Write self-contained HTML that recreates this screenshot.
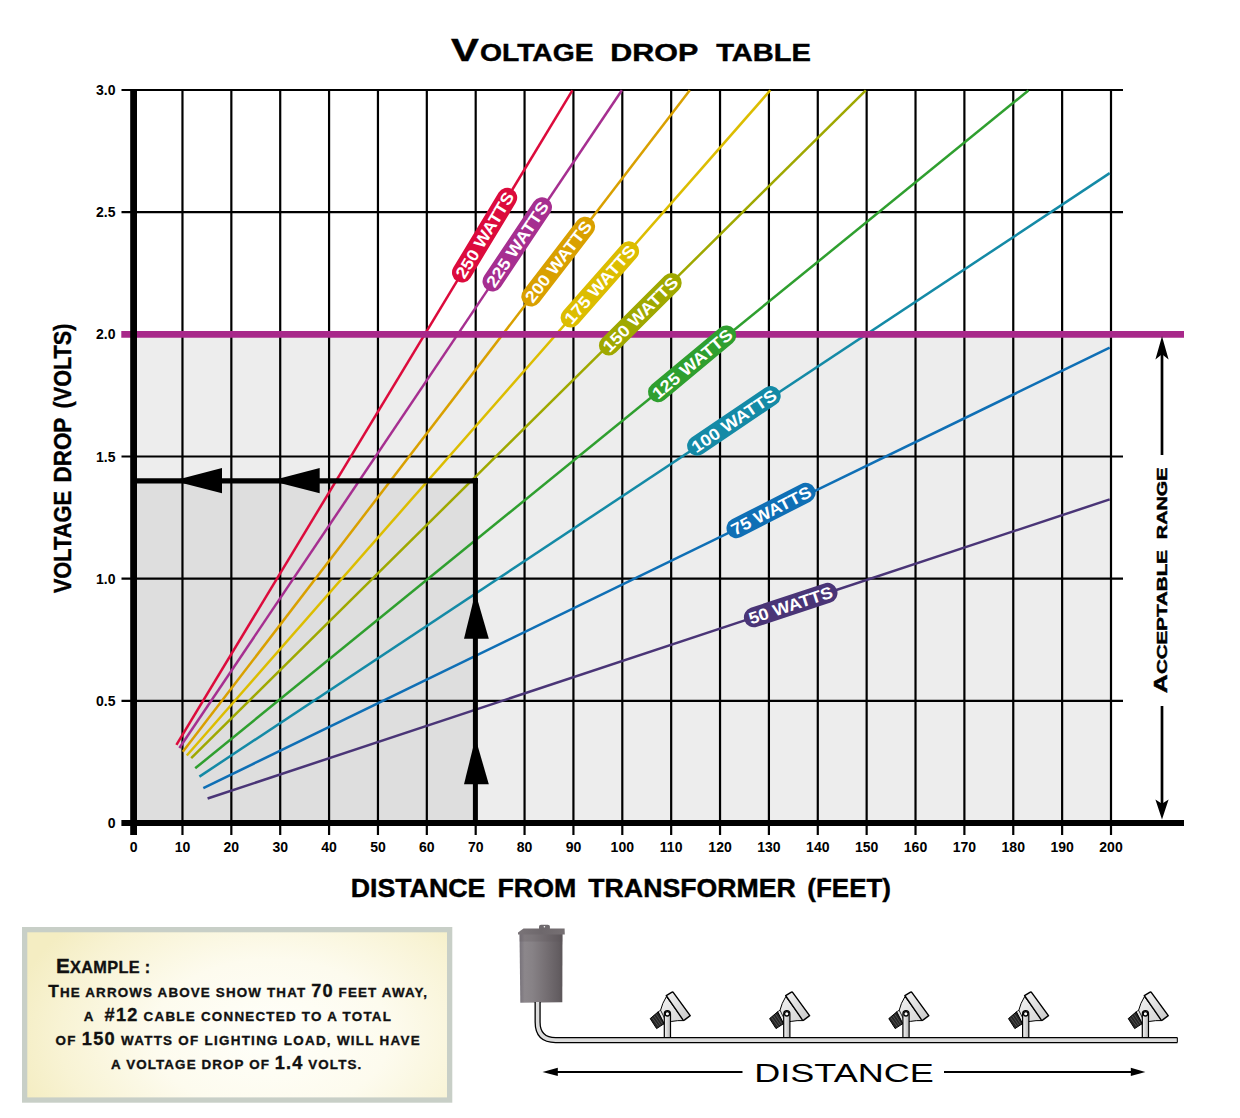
<!DOCTYPE html><html><head><meta charset="utf-8"><title>Voltage Drop Table</title><style>html,body{margin:0;padding:0;background:#fff;}body{width:1240px;height:1118px;position:relative;overflow:hidden;}</style></head><body><svg width="1240" height="1118" viewBox="0 0 1240 1118" style="position:absolute;left:0;top:0">
<defs><radialGradient id="cream" cx="58%" cy="62%" r="62%" gradientTransform="translate(0.58 0.62) scale(1 1.6) translate(-0.58 -0.62)"><stop offset="0" stop-color="#fffffa"/><stop offset="0.45" stop-color="#fdfbee"/><stop offset="0.8" stop-color="#f8f3d4"/><stop offset="1" stop-color="#f4edc2"/></radialGradient><linearGradient id="tbody" x1="0" x2="1" y1="0" y2="0"><stop offset="0" stop-color="#77727a"/><stop offset="0.12" stop-color="#8c878b"/><stop offset="0.3" stop-color="#878286"/><stop offset="0.6" stop-color="#767074"/><stop offset="0.9" stop-color="#645e62"/><stop offset="1" stop-color="#5c5659"/></linearGradient><linearGradient id="stake" x1="0" x2="1" y1="0" y2="0"><stop offset="0" stop-color="#f4f4f4"/><stop offset="1" stop-color="#b8b8b8"/></linearGradient><linearGradient id="face" x1="0" x2="1" y1="0" y2="1"><stop offset="0" stop-color="#f4f4f4"/><stop offset="1" stop-color="#c8c8c8"/></linearGradient><linearGradient id="bodyg" x1="0" x2="1" y1="0" y2="1"><stop offset="0" stop-color="#f2f2f2"/><stop offset="1" stop-color="#d4d4d4"/></linearGradient><linearGradient id="lid" x1="0" x2="1" y1="0" y2="0"><stop offset="0" stop-color="#7a7478"/><stop offset="0.5" stop-color="#6e686c"/><stop offset="1" stop-color="#767073"/></linearGradient></defs>
<rect x="133.6" y="334.32" width="977.4" height="488.68" fill="#ededed"/>
<rect x="133.6" y="480.9" width="341.79999999999995" height="342.1" fill="#dedede"/>
<line x1="182.47" y1="89.3" x2="182.47" y2="835" stroke="#000" stroke-width="2.2"/>
<line x1="231.34" y1="89.3" x2="231.34" y2="835" stroke="#000" stroke-width="2.2"/>
<line x1="280.21" y1="89.3" x2="280.21" y2="835" stroke="#000" stroke-width="2.2"/>
<line x1="329.08" y1="89.3" x2="329.08" y2="835" stroke="#000" stroke-width="2.2"/>
<line x1="377.95" y1="89.3" x2="377.95" y2="835" stroke="#000" stroke-width="2.2"/>
<line x1="426.82" y1="89.3" x2="426.82" y2="835" stroke="#000" stroke-width="2.2"/>
<line x1="475.69" y1="89.3" x2="475.69" y2="835" stroke="#000" stroke-width="2.2"/>
<line x1="524.56" y1="89.3" x2="524.56" y2="835" stroke="#000" stroke-width="2.2"/>
<line x1="573.43" y1="89.3" x2="573.43" y2="835" stroke="#000" stroke-width="2.2"/>
<line x1="622.30" y1="89.3" x2="622.30" y2="835" stroke="#000" stroke-width="2.2"/>
<line x1="671.17" y1="89.3" x2="671.17" y2="835" stroke="#000" stroke-width="2.2"/>
<line x1="720.04" y1="89.3" x2="720.04" y2="835" stroke="#000" stroke-width="2.2"/>
<line x1="768.91" y1="89.3" x2="768.91" y2="835" stroke="#000" stroke-width="2.2"/>
<line x1="817.78" y1="89.3" x2="817.78" y2="835" stroke="#000" stroke-width="2.2"/>
<line x1="866.65" y1="89.3" x2="866.65" y2="835" stroke="#000" stroke-width="2.2"/>
<line x1="915.52" y1="89.3" x2="915.52" y2="835" stroke="#000" stroke-width="2.2"/>
<line x1="964.39" y1="89.3" x2="964.39" y2="835" stroke="#000" stroke-width="2.2"/>
<line x1="1013.26" y1="89.3" x2="1013.26" y2="835" stroke="#000" stroke-width="2.2"/>
<line x1="1062.13" y1="89.3" x2="1062.13" y2="835" stroke="#000" stroke-width="2.2"/>
<line x1="1111.00" y1="89.3" x2="1111.00" y2="835" stroke="#000" stroke-width="2.2"/>
<line x1="121.5" y1="700.83" x2="1123" y2="700.83" stroke="#000" stroke-width="2.2"/>
<line x1="121.5" y1="578.66" x2="1123" y2="578.66" stroke="#000" stroke-width="2.2"/>
<line x1="121.5" y1="456.49" x2="1123" y2="456.49" stroke="#000" stroke-width="2.2"/>
<line x1="121.5" y1="212.15" x2="1123" y2="212.15" stroke="#000" stroke-width="2.2"/>
<line x1="121.5" y1="89.98" x2="1123" y2="89.98" stroke="#000" stroke-width="2.2"/>
<line x1="176.4" y1="744.8" x2="572.4" y2="90.3" stroke="#dc0b3c" stroke-width="2.5"/>
<line x1="179.4" y1="748.0" x2="621.9" y2="90.3" stroke="#a62f90" stroke-width="2.5"/>
<line x1="182.8" y1="751.8" x2="689.8" y2="90.3" stroke="#d9a000" stroke-width="2.5"/>
<line x1="186.8" y1="755.5" x2="770.3" y2="90.3" stroke="#dcbd00" stroke-width="2.5"/>
<line x1="191.2" y1="758.2" x2="865.8" y2="90.3" stroke="#9fa800" stroke-width="2.5"/>
<line x1="195.2" y1="768.3" x2="1028.4" y2="90.5" stroke="#2f9f2f" stroke-width="2.5"/>
<line x1="199.4" y1="776.6" x2="1109.7" y2="173.1" stroke="#148aa6" stroke-width="2.5"/>
<line x1="203.3" y1="788.1" x2="1109.7" y2="347.7" stroke="#0f6fb5" stroke-width="2.5"/>
<line x1="207.6" y1="798.5" x2="1109.7" y2="499.4" stroke="#4a3577" stroke-width="2.5"/>
<line x1="121.3" y1="334.32" x2="1184" y2="334.32" stroke="#a8288a" stroke-width="6.7"/>
<line x1="133.6" y1="89" x2="133.6" y2="835" stroke="#000" stroke-width="6.8"/>
<line x1="121.4" y1="823.0" x2="1184" y2="823.0" stroke="#000" stroke-width="6"/>
<line x1="462.0" y1="272.5" x2="507.2" y2="197.7" stroke="#dc0b3c" stroke-width="20" stroke-linecap="round"/>
<text x="0" y="0" transform="translate(484.60,235.10) rotate(-58.86)" text-anchor="middle" dy="5.9" font-family='"Liberation Sans", sans-serif' font-weight="bold" font-size="16.5" fill="#fff" textLength="97.4" lengthAdjust="spacingAndGlyphs">250 WATTS</text>
<line x1="492.5" y1="281.4" x2="542.0" y2="207.2" stroke="#a62f90" stroke-width="20" stroke-linecap="round"/>
<text x="0" y="0" transform="translate(517.25,244.30) rotate(-56.29)" text-anchor="middle" dy="5.9" font-family='"Liberation Sans", sans-serif' font-weight="bold" font-size="16.5" fill="#fff" textLength="99.2" lengthAdjust="spacingAndGlyphs">225 WATTS</text>
<line x1="531.3" y1="296.5" x2="585.1" y2="226.7" stroke="#d9a000" stroke-width="20" stroke-linecap="round"/>
<text x="0" y="0" transform="translate(558.20,261.60) rotate(-52.38)" text-anchor="middle" dy="5.9" font-family='"Liberation Sans", sans-serif' font-weight="bold" font-size="16.5" fill="#fff" textLength="98.1" lengthAdjust="spacingAndGlyphs">200 WATTS</text>
<line x1="570.6" y1="317.6" x2="629.1" y2="251.2" stroke="#dcbd00" stroke-width="20" stroke-linecap="round"/>
<text x="0" y="0" transform="translate(599.85,284.40) rotate(-48.62)" text-anchor="middle" dy="5.9" font-family='"Liberation Sans", sans-serif' font-weight="bold" font-size="16.5" fill="#fff" textLength="98.5" lengthAdjust="spacingAndGlyphs">175 WATTS</text>
<line x1="608.9" y1="345.5" x2="671.7" y2="282.9" stroke="#9fa800" stroke-width="20" stroke-linecap="round"/>
<text x="0" y="0" transform="translate(640.30,314.20) rotate(-44.91)" text-anchor="middle" dy="5.9" font-family='"Liberation Sans", sans-serif' font-weight="bold" font-size="16.5" fill="#fff" textLength="98.7" lengthAdjust="spacingAndGlyphs">150 WATTS</text>
<line x1="658.0" y1="392.2" x2="726.3" y2="335.4" stroke="#2f9f2f" stroke-width="20" stroke-linecap="round"/>
<text x="0" y="0" transform="translate(692.15,363.80) rotate(-39.75)" text-anchor="middle" dy="5.9" font-family='"Liberation Sans", sans-serif' font-weight="bold" font-size="16.5" fill="#fff" textLength="98.8" lengthAdjust="spacingAndGlyphs">125 WATTS</text>
<line x1="697.1" y1="445.7" x2="770.7" y2="396.0" stroke="#148aa6" stroke-width="20" stroke-linecap="round"/>
<text x="0" y="0" transform="translate(733.90,420.85) rotate(-34.03)" text-anchor="middle" dy="5.9" font-family='"Liberation Sans", sans-serif' font-weight="bold" font-size="16.5" fill="#fff" textLength="98.8" lengthAdjust="spacingAndGlyphs">100 WATTS</text>
<line x1="736.5" y1="528.2" x2="805.6" y2="492.8" stroke="#0f6fb5" stroke-width="20" stroke-linecap="round"/>
<text x="0" y="0" transform="translate(771.05,510.50) rotate(-27.13)" text-anchor="middle" dy="5.9" font-family='"Liberation Sans", sans-serif' font-weight="bold" font-size="16.5" fill="#fff" textLength="87.6" lengthAdjust="spacingAndGlyphs">75 WATTS</text>
<line x1="753.9" y1="617.3" x2="827.5" y2="592.9" stroke="#4a3577" stroke-width="20" stroke-linecap="round"/>
<text x="0" y="0" transform="translate(790.70,605.10) rotate(-18.34)" text-anchor="middle" dy="5.9" font-family='"Liberation Sans", sans-serif' font-weight="bold" font-size="16.5" fill="#fff" textLength="87.5" lengthAdjust="spacingAndGlyphs">50 WATTS</text>
<line x1="137" y1="480.9" x2="478" y2="480.9" stroke="#000" stroke-width="5.2"/>
<line x1="475.4" y1="478.3" x2="475.4" y2="823" stroke="#000" stroke-width="5"/>
<polygon points="173.2,480.8 222.0,468 222.0,493.2" fill="#000"/>
<polygon points="270.9,480.8 319.7,468 319.7,493.2" fill="#000"/>
<polygon points="475.4,592.5 464,638.7 488.8,638.7" fill="#000"/>
<polygon points="475.4,738.0 464,784.2 488.8,784.2" fill="#000"/>
<line x1="1162" y1="352" x2="1162" y2="455" stroke="#000" stroke-width="2.7"/>
<line x1="1162" y1="706" x2="1162" y2="805" stroke="#000" stroke-width="2.7"/>
<polygon points="1162,336.2 1168.6,359.6 1162,354.3 1155.4,359.6" fill="#000"/>
<polygon points="1162,819.6 1168.6,799.5 1162,803.8 1155.4,799.5" fill="#000"/>
<text x="115.5" y="828.10" text-anchor="end" font-family='"Liberation Sans", sans-serif' font-weight="bold" font-size="14">0</text>
<text x="115.5" y="705.93" text-anchor="end" font-family='"Liberation Sans", sans-serif' font-weight="bold" font-size="14">0.5</text>
<text x="115.5" y="583.76" text-anchor="end" font-family='"Liberation Sans", sans-serif' font-weight="bold" font-size="14">1.0</text>
<text x="115.5" y="461.59" text-anchor="end" font-family='"Liberation Sans", sans-serif' font-weight="bold" font-size="14">1.5</text>
<text x="115.5" y="339.42" text-anchor="end" font-family='"Liberation Sans", sans-serif' font-weight="bold" font-size="14">2.0</text>
<text x="115.5" y="217.25" text-anchor="end" font-family='"Liberation Sans", sans-serif' font-weight="bold" font-size="14">2.5</text>
<text x="115.5" y="95.08" text-anchor="end" font-family='"Liberation Sans", sans-serif' font-weight="bold" font-size="14">3.0</text>
<text x="133.60" y="852" text-anchor="middle" font-family='"Liberation Sans", sans-serif' font-weight="bold" font-size="14">0</text>
<text x="182.47" y="852" text-anchor="middle" font-family='"Liberation Sans", sans-serif' font-weight="bold" font-size="14">10</text>
<text x="231.34" y="852" text-anchor="middle" font-family='"Liberation Sans", sans-serif' font-weight="bold" font-size="14">20</text>
<text x="280.21" y="852" text-anchor="middle" font-family='"Liberation Sans", sans-serif' font-weight="bold" font-size="14">30</text>
<text x="329.08" y="852" text-anchor="middle" font-family='"Liberation Sans", sans-serif' font-weight="bold" font-size="14">40</text>
<text x="377.95" y="852" text-anchor="middle" font-family='"Liberation Sans", sans-serif' font-weight="bold" font-size="14">50</text>
<text x="426.82" y="852" text-anchor="middle" font-family='"Liberation Sans", sans-serif' font-weight="bold" font-size="14">60</text>
<text x="475.69" y="852" text-anchor="middle" font-family='"Liberation Sans", sans-serif' font-weight="bold" font-size="14">70</text>
<text x="524.56" y="852" text-anchor="middle" font-family='"Liberation Sans", sans-serif' font-weight="bold" font-size="14">80</text>
<text x="573.43" y="852" text-anchor="middle" font-family='"Liberation Sans", sans-serif' font-weight="bold" font-size="14">90</text>
<text x="622.30" y="852" text-anchor="middle" font-family='"Liberation Sans", sans-serif' font-weight="bold" font-size="14">100</text>
<text x="671.17" y="852" text-anchor="middle" font-family='"Liberation Sans", sans-serif' font-weight="bold" font-size="14">110</text>
<text x="720.04" y="852" text-anchor="middle" font-family='"Liberation Sans", sans-serif' font-weight="bold" font-size="14">120</text>
<text x="768.91" y="852" text-anchor="middle" font-family='"Liberation Sans", sans-serif' font-weight="bold" font-size="14">130</text>
<text x="817.78" y="852" text-anchor="middle" font-family='"Liberation Sans", sans-serif' font-weight="bold" font-size="14">140</text>
<text x="866.65" y="852" text-anchor="middle" font-family='"Liberation Sans", sans-serif' font-weight="bold" font-size="14">150</text>
<text x="915.52" y="852" text-anchor="middle" font-family='"Liberation Sans", sans-serif' font-weight="bold" font-size="14">160</text>
<text x="964.39" y="852" text-anchor="middle" font-family='"Liberation Sans", sans-serif' font-weight="bold" font-size="14">170</text>
<text x="1013.26" y="852" text-anchor="middle" font-family='"Liberation Sans", sans-serif' font-weight="bold" font-size="14">180</text>
<text x="1062.13" y="852" text-anchor="middle" font-family='"Liberation Sans", sans-serif' font-weight="bold" font-size="14">190</text>
<text x="1111.00" y="852" text-anchor="middle" font-family='"Liberation Sans", sans-serif' font-weight="bold" font-size="14">200</text>
<text x="451.0" y="61" font-family='"Liberation Sans", sans-serif' font-weight="bold" font-size="30.7" textLength="27.8" lengthAdjust="spacingAndGlyphs" stroke="#000" stroke-width="0.4">V</text>
<text x="480.0" y="61" font-family='"Liberation Sans", sans-serif' font-weight="bold" font-size="23.7" textLength="113.6" lengthAdjust="spacingAndGlyphs" stroke="#000" stroke-width="0.4">OLTAGE</text>
<text x="610.3" y="61" font-family='"Liberation Sans", sans-serif' font-weight="bold" font-size="23.7" textLength="88.0" lengthAdjust="spacingAndGlyphs" stroke="#000" stroke-width="0.4">DROP</text>
<text x="716.2" y="61" font-family='"Liberation Sans", sans-serif' font-weight="bold" font-size="23.7" textLength="94.8" lengthAdjust="spacingAndGlyphs" stroke="#000" stroke-width="0.4">TABLE</text>
<text x="350.7" y="896.9" font-family='"Liberation Sans", sans-serif' font-weight="bold" font-size="25" textLength="134.7" lengthAdjust="spacingAndGlyphs" stroke="#000" stroke-width="0.4">DISTANCE</text>
<text x="497.5" y="896.9" font-family='"Liberation Sans", sans-serif' font-weight="bold" font-size="25" textLength="78.8" lengthAdjust="spacingAndGlyphs" stroke="#000" stroke-width="0.4">FROM</text>
<text x="588.3" y="896.9" font-family='"Liberation Sans", sans-serif' font-weight="bold" font-size="25" textLength="207.5" lengthAdjust="spacingAndGlyphs" stroke="#000" stroke-width="0.4">TRANSFORMER</text>
<text x="807.3" y="896.9" font-family='"Liberation Sans", sans-serif' font-weight="bold" font-size="25" textLength="83.7" lengthAdjust="spacingAndGlyphs" stroke="#000" stroke-width="0.4">(FEET)</text>
<text x="0" y="0" transform="translate(71.1,593.3) rotate(-90)" font-family='"Liberation Sans", sans-serif' font-weight="bold" font-size="23.7" stroke="#000" stroke-width="0.4" textLength="102.5" lengthAdjust="spacingAndGlyphs">VOLTAGE</text>
<text x="0" y="0" transform="translate(71.1,482.5) rotate(-90)" font-family='"Liberation Sans", sans-serif' font-weight="bold" font-size="23.7" stroke="#000" stroke-width="0.4" textLength="64.8" lengthAdjust="spacingAndGlyphs">DROP</text>
<text x="0" y="0" transform="translate(71.1,408.5) rotate(-90)" font-family='"Liberation Sans", sans-serif' font-weight="bold" font-size="23.7" stroke="#000" stroke-width="0.4" textLength="84.9" lengthAdjust="spacingAndGlyphs">(VOLTS)</text>
<text x="0" y="0" transform="translate(1166.6,693.2) rotate(-90)" font-family='"Liberation Sans", sans-serif' font-weight="bold" font-size="14.8" stroke="#000" stroke-width="0.45" textLength="143.2" lengthAdjust="spacingAndGlyphs"><tspan font-size="19">A</tspan>CCEPTABLE</text>
<text x="0" y="0" transform="translate(1166.6,539.2) rotate(-90)" font-family='"Liberation Sans", sans-serif' font-weight="bold" font-size="14.8" stroke="#000" stroke-width="0.45" textLength="71.8" lengthAdjust="spacingAndGlyphs">RANGE</text>
<rect x="24.65" y="929.65" width="425" height="170.4" fill="url(#cream)" stroke="#c8cfc7" stroke-width="5.3"/>
<path d="M539,929 L539,926.5 Q539,924.7 541,924.7 L547.8,924.7 Q549.9,924.7 549.9,926.5 L549.9,929 Z" fill="#6f6a6e"/>
<circle cx="544.4" cy="926.8" r="0.8" fill="#fff"/>
<path d="M519.5,933.5 L562.5,933.5 L562.3,1002.2 L520.3,1002.8 Z" fill="url(#tbody)"/>
<rect x="519.5" y="933.5" width="43" height="8" fill="#5a5458" opacity="0.25"/>
<path d="M518,934.6 L518,932.5 L523.5,928.4 L564.6,928.4 L564.8,934.6 Z" fill="url(#lid)"/>
<g transform="translate(0.00,0)"><path d="M666.4,996.6 Q662.3,1003 660.4,1010.8 L663.6,1022.6 L671.8,1021.4 Q677.5,1020.3 684,1020.6 Z" fill="url(#bodyg)" stroke="#000" stroke-width="1"/><path d="M666.3,995.6 L671.6,992.3 Q672.8,991.7 673.6,992.8 L690.2,1015.6 L684.6,1019.9 Q683.6,1020.6 682.8,1019.6 Z" fill="url(#face)" stroke="#000" stroke-width="1.4" stroke-linejoin="round"/><path d="M657.6,1012.2 L660.6,1010.2 L666.2,1021.6 L663.2,1024.2 Z" fill="#e4e4e4" stroke="#000" stroke-width="0.8"/><path d="M650.2,1018.6 L658.2,1011.8 L664.2,1023.6 L656.6,1028.6 Z" fill="#262626" stroke="#000" stroke-width="1" stroke-linejoin="round"/><path d="M652.2,1017.6 L658.6,1026.4 M654.2,1016 L660.4,1025 M656.2,1014.3 L662.2,1023.6" stroke="#777" stroke-width="0.5"/><path d="M664.3,1037.5 L664.3,1013.8 A3.1,3.1 0 0 1 670.5,1013.8 L670.5,1037.5 Z" fill="url(#stake)" stroke="#000" stroke-width="1.2"/><circle cx="667.4" cy="1013.8" r="2.2" fill="#fff" stroke="#000" stroke-width="1.3"/></g>
<g transform="translate(119.40,0)"><path d="M666.4,996.6 Q662.3,1003 660.4,1010.8 L663.6,1022.6 L671.8,1021.4 Q677.5,1020.3 684,1020.6 Z" fill="url(#bodyg)" stroke="#000" stroke-width="1"/><path d="M666.3,995.6 L671.6,992.3 Q672.8,991.7 673.6,992.8 L690.2,1015.6 L684.6,1019.9 Q683.6,1020.6 682.8,1019.6 Z" fill="url(#face)" stroke="#000" stroke-width="1.4" stroke-linejoin="round"/><path d="M657.6,1012.2 L660.6,1010.2 L666.2,1021.6 L663.2,1024.2 Z" fill="#e4e4e4" stroke="#000" stroke-width="0.8"/><path d="M650.2,1018.6 L658.2,1011.8 L664.2,1023.6 L656.6,1028.6 Z" fill="#262626" stroke="#000" stroke-width="1" stroke-linejoin="round"/><path d="M652.2,1017.6 L658.6,1026.4 M654.2,1016 L660.4,1025 M656.2,1014.3 L662.2,1023.6" stroke="#777" stroke-width="0.5"/><path d="M664.3,1037.5 L664.3,1013.8 A3.1,3.1 0 0 1 670.5,1013.8 L670.5,1037.5 Z" fill="url(#stake)" stroke="#000" stroke-width="1.2"/><circle cx="667.4" cy="1013.8" r="2.2" fill="#fff" stroke="#000" stroke-width="1.3"/></g>
<g transform="translate(238.60,0)"><path d="M666.4,996.6 Q662.3,1003 660.4,1010.8 L663.6,1022.6 L671.8,1021.4 Q677.5,1020.3 684,1020.6 Z" fill="url(#bodyg)" stroke="#000" stroke-width="1"/><path d="M666.3,995.6 L671.6,992.3 Q672.8,991.7 673.6,992.8 L690.2,1015.6 L684.6,1019.9 Q683.6,1020.6 682.8,1019.6 Z" fill="url(#face)" stroke="#000" stroke-width="1.4" stroke-linejoin="round"/><path d="M657.6,1012.2 L660.6,1010.2 L666.2,1021.6 L663.2,1024.2 Z" fill="#e4e4e4" stroke="#000" stroke-width="0.8"/><path d="M650.2,1018.6 L658.2,1011.8 L664.2,1023.6 L656.6,1028.6 Z" fill="#262626" stroke="#000" stroke-width="1" stroke-linejoin="round"/><path d="M652.2,1017.6 L658.6,1026.4 M654.2,1016 L660.4,1025 M656.2,1014.3 L662.2,1023.6" stroke="#777" stroke-width="0.5"/><path d="M664.3,1037.5 L664.3,1013.8 A3.1,3.1 0 0 1 670.5,1013.8 L670.5,1037.5 Z" fill="url(#stake)" stroke="#000" stroke-width="1.2"/><circle cx="667.4" cy="1013.8" r="2.2" fill="#fff" stroke="#000" stroke-width="1.3"/></g>
<g transform="translate(358.30,0)"><path d="M666.4,996.6 Q662.3,1003 660.4,1010.8 L663.6,1022.6 L671.8,1021.4 Q677.5,1020.3 684,1020.6 Z" fill="url(#bodyg)" stroke="#000" stroke-width="1"/><path d="M666.3,995.6 L671.6,992.3 Q672.8,991.7 673.6,992.8 L690.2,1015.6 L684.6,1019.9 Q683.6,1020.6 682.8,1019.6 Z" fill="url(#face)" stroke="#000" stroke-width="1.4" stroke-linejoin="round"/><path d="M657.6,1012.2 L660.6,1010.2 L666.2,1021.6 L663.2,1024.2 Z" fill="#e4e4e4" stroke="#000" stroke-width="0.8"/><path d="M650.2,1018.6 L658.2,1011.8 L664.2,1023.6 L656.6,1028.6 Z" fill="#262626" stroke="#000" stroke-width="1" stroke-linejoin="round"/><path d="M652.2,1017.6 L658.6,1026.4 M654.2,1016 L660.4,1025 M656.2,1014.3 L662.2,1023.6" stroke="#777" stroke-width="0.5"/><path d="M664.3,1037.5 L664.3,1013.8 A3.1,3.1 0 0 1 670.5,1013.8 L670.5,1037.5 Z" fill="url(#stake)" stroke="#000" stroke-width="1.2"/><circle cx="667.4" cy="1013.8" r="2.2" fill="#fff" stroke="#000" stroke-width="1.3"/></g>
<g transform="translate(478.00,0)"><path d="M666.4,996.6 Q662.3,1003 660.4,1010.8 L663.6,1022.6 L671.8,1021.4 Q677.5,1020.3 684,1020.6 Z" fill="url(#bodyg)" stroke="#000" stroke-width="1"/><path d="M666.3,995.6 L671.6,992.3 Q672.8,991.7 673.6,992.8 L690.2,1015.6 L684.6,1019.9 Q683.6,1020.6 682.8,1019.6 Z" fill="url(#face)" stroke="#000" stroke-width="1.4" stroke-linejoin="round"/><path d="M657.6,1012.2 L660.6,1010.2 L666.2,1021.6 L663.2,1024.2 Z" fill="#e4e4e4" stroke="#000" stroke-width="0.8"/><path d="M650.2,1018.6 L658.2,1011.8 L664.2,1023.6 L656.6,1028.6 Z" fill="#262626" stroke="#000" stroke-width="1" stroke-linejoin="round"/><path d="M652.2,1017.6 L658.6,1026.4 M654.2,1016 L660.4,1025 M656.2,1014.3 L662.2,1023.6" stroke="#777" stroke-width="0.5"/><path d="M664.3,1037.5 L664.3,1013.8 A3.1,3.1 0 0 1 670.5,1013.8 L670.5,1037.5 Z" fill="url(#stake)" stroke="#000" stroke-width="1.2"/><circle cx="667.4" cy="1013.8" r="2.2" fill="#fff" stroke="#000" stroke-width="1.3"/></g>
<path d="M537.6,1002 L537.6,1022 Q537.6,1040.1 555.6,1040.1 L1177.5,1040.1" fill="none" stroke="#000" stroke-width="6.2"/>
<path d="M537.6,1002 L537.6,1022 Q537.6,1040.1 555.6,1040.1 L1177.5,1040.1" fill="none" stroke="#dcdcdc" stroke-width="3.6"/>
<line x1="1177.3" y1="1037.8" x2="1177.3" y2="1042.4" stroke="#000" stroke-width="1"/>
<line x1="553" y1="1071.9" x2="742.5" y2="1071.9" stroke="#000" stroke-width="2"/>
<polygon points="542.5,1071.9 557.8,1067.7 557.8,1076.1" fill="#000"/>
<line x1="944" y1="1071.9" x2="1135" y2="1071.9" stroke="#000" stroke-width="2"/>
<polygon points="1145.4,1071.9 1130.8,1067.8 1130.8,1076" fill="#000"/>
<text x="754.3" y="1081.8" font-family='"Liberation Sans", sans-serif' font-weight="normal" font-size="26.5" textLength="179.4" lengthAdjust="spacingAndGlyphs" >DISTANCE</text>
<text x="55.9" y="972.9" font-family='"Liberation Sans", sans-serif' font-weight="bold" fill="#111" stroke="#111" stroke-width="0.35" textLength="94.3" lengthAdjust="spacing" xml:space="preserve"><tspan font-size="20.7">E</tspan><tspan font-size="16.3">XAMPLE&#160;:</tspan></text>
<text x="48.3" y="997.0" font-family='"Liberation Sans", sans-serif' font-weight="bold" fill="#111" stroke="#111" stroke-width="0.35" textLength="378.6" lengthAdjust="spacing" xml:space="preserve"><tspan font-size="17.3">T</tspan><tspan font-size="13.4">HE ARROWS ABOVE SHOW THAT </tspan><tspan font-size="18.2">70</tspan><tspan font-size="13.4"> FEET AWAY,</tspan></text>
<text x="83.7" y="1021.0" font-family='"Liberation Sans", sans-serif' font-weight="bold" fill="#111" stroke="#111" stroke-width="0.35" textLength="307.2" lengthAdjust="spacing" xml:space="preserve"><tspan font-size="13.4">A&#160; </tspan><tspan font-size="18.2">#12</tspan><tspan font-size="13.4"> CABLE CONNECTED TO A TOTAL</tspan></text>
<text x="55.6" y="1044.8" font-family='"Liberation Sans", sans-serif' font-weight="bold" fill="#111" stroke="#111" stroke-width="0.35" textLength="364.0" lengthAdjust="spacing" xml:space="preserve"><tspan font-size="13.4">OF </tspan><tspan font-size="18.2">150</tspan><tspan font-size="13.4"> WATTS OF LIGHTING LOAD, WILL HAVE</tspan></text>
<text x="111.1" y="1068.5" font-family='"Liberation Sans", sans-serif' font-weight="bold" fill="#111" stroke="#111" stroke-width="0.35" textLength="250.1" lengthAdjust="spacing" xml:space="preserve"><tspan font-size="13.4">A VOLTAGE DROP OF </tspan><tspan font-size="18.2">1.4</tspan><tspan font-size="13.4"> VOLTS.</tspan></text>
</svg></body></html>
